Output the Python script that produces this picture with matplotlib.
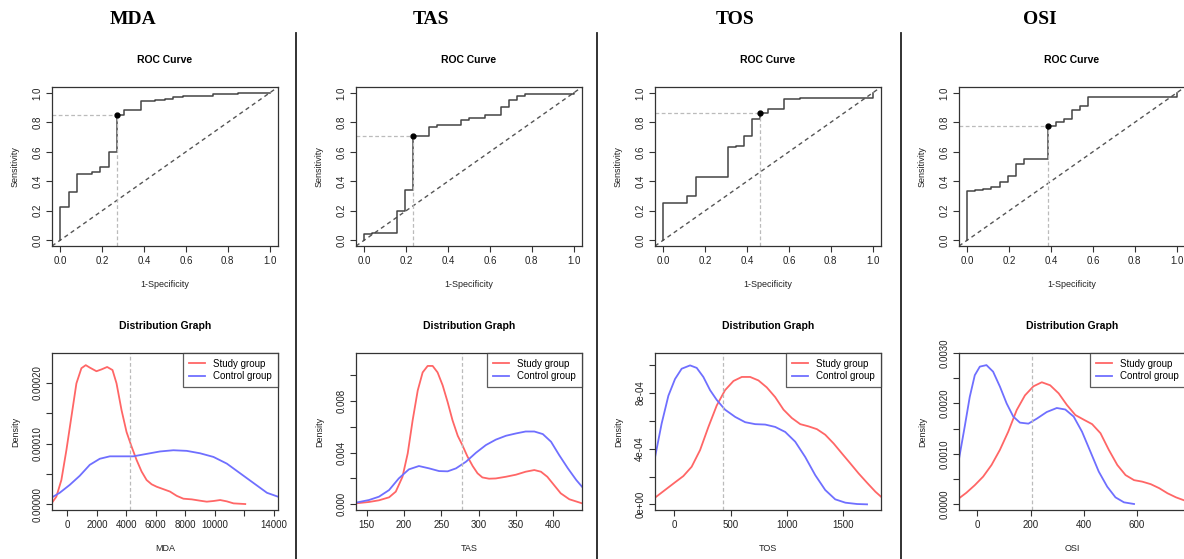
import numpy as np
import matplotlib
matplotlib.use("Agg")
import matplotlib.pyplot as plt

# -------------------------------
# 1. DATA
# -------------------------------
markers = ["MDA", "TAS", "TOS", "OSI"]

# ROC step points (1-specificity, sensitivity), drawn with steps-post
roc_fpr = {
    "MDA": [0, 0, 0.041, 0.08, 0.15, 0.19, 0.23, 0.269, 0.306, 0.383, 0.45, 0.50, 0.54, 0.585, 0.73, 0.85, 1.0],
    "TAS": [0, 0, 0.038, 0.077, 0.154, 0.192, 0.231, 0.308, 0.346, 0.462, 0.5, 0.577, 0.654, 0.692, 0.731, 0.769, 1.0],
    "TOS": [0, 0, 0.115, 0.154, 0.308, 0.346, 0.385, 0.423, 0.462, 0.5, 0.577, 0.654, 1.0],
    "OSI": [0, 0, 0.038, 0.077, 0.115, 0.154, 0.192, 0.231, 0.269, 0.385, 0.423, 0.462, 0.5, 0.538, 0.577, 1.0],
}
roc_tpr = {
    "MDA": [0, 0.223, 0.33, 0.448, 0.46, 0.50, 0.598, 0.852, 0.886, 0.948, 0.955, 0.96, 0.97, 0.98, 0.99, 1.0, 1.0],
    "TAS": [0, 0.04, 0.045, 0.05, 0.20, 0.34, 0.705, 0.768, 0.78, 0.818, 0.83, 0.85, 0.905, 0.95, 0.98, 0.99, 1.0],
    "TOS": [0, 0.255, 0.302, 0.43, 0.63, 0.64, 0.705, 0.823, 0.864, 0.893, 0.959, 0.968, 1.0],
    "OSI": [0, 0.334, 0.34, 0.35, 0.36, 0.398, 0.436, 0.514, 0.55, 0.777, 0.80, 0.823, 0.886, 0.909, 0.97, 1.0],
}
# best threshold point
thr_fpr = {"MDA": 0.269, "TAS": 0.231, "TOS": 0.462, "OSI": 0.385}
thr_tpr = {"MDA": 0.852, "TAS": 0.705, "TOS": 0.864, "OSI": 0.777}

# density curves: study group (red) and control group (blue)
study_x = {
    "MDA": [-1044, -749, -408, -68, 272, 613, 953, 1248, 1520, 1974, 2314, 2700, 3063, 3336, 3676, 4016,
            4357, 4697, 5037, 5378, 5718, 6058, 6512, 6966, 7420, 7874, 8441, 9008, 9462, 9916, 10370,
            10824, 11278, 12072],
    "TAS": [135.7, 153, 166.5, 180, 189, 198, 205, 211.6, 218.4, 225, 231.7, 238.4, 245, 251.8, 258.5,
            265, 272, 278, 285, 292, 298.5, 305, 314, 323, 336.5, 350, 363, 374.6, 383.5, 392, 401, 410,
            421.5, 438.5],
    "TOS": [-172, -83, 6, 80, 154, 229, 303, 377, 451, 526, 600, 674, 748, 822, 897, 971, 1045, 1120,
            1194, 1268, 1342, 1417, 1491, 1565, 1639, 1714, 1788, 1838],
    "OSI": [-69.5, -41.7, -10, 21.5, 53, 84.6, 116, 148, 179, 211, 242.5, 274, 306, 337, 369, 400, 432,
            463.6, 495, 527, 558, 590, 621, 653, 685, 716, 748, 782],
}
study_y = {
    "MDA": [2.7e-6, 1.26e-5, 4.0e-5, 8.9e-5, 1.44e-4, 1.99e-4, 2.24e-4, 2.29e-4, 2.25e-4, 2.19e-4, 2.22e-4,
            2.26e-4, 2.21e-4, 1.99e-4, 1.55e-4, 1.19e-4, 9.5e-5, 7.3e-5, 5.4e-5, 4.0e-5, 3.3e-5, 2.9e-5,
            2.5e-5, 2.1e-5, 1.4e-5, 9.3e-6, 8.2e-6, 6e-6, 4.4e-6, 5.5e-6, 7.1e-6, 4.9e-6, 1.6e-6, 5e-7],
    "TAS": [7.7e-5, 1.8e-4, 3.1e-4, 5.4e-4, 9.8e-4, 2.13e-3, 3.94e-3, 6.5e-3, 8.8e-3, 1.02e-2, 1.07e-2,
            1.07e-2, 1.02e-2, 9.2e-3, 7.9e-3, 6.5e-3, 5.3e-3, 4.6e-3, 3.7e-3, 2.96e-3, 2.4e-3, 2.08e-3,
            1.98e-3, 2.0e-3, 2.13e-3, 2.29e-3, 2.52e-3, 2.65e-3, 2.52e-3, 2.13e-3, 1.49e-3, 8.5e-4,
            3.9e-4, 7.7e-5],
    "TOS": [4.8e-5, 1.03e-4, 1.58e-4, 2.03e-4, 2.7e-4, 3.9e-4, 5.56e-4, 7.1e-4, 8.2e-4, 8.86e-4, 9.15e-4,
            9.15e-4, 8.9e-4, 8.4e-4, 7.7e-4, 6.8e-4, 6.2e-4, 5.76e-4, 5.6e-4, 5.4e-4, 5.0e-4, 4.37e-4,
            3.65e-4, 2.94e-4, 2.22e-4, 1.55e-4, 9.1e-5, 5.5e-5],
    "OSI": [1.19e-4, 2.3e-4, 3.8e-4, 5.5e-4, 7.8e-4, 1.08e-3, 1.44e-3, 1.87e-3, 2.16e-3, 2.34e-3, 2.42e-3,
            2.36e-3, 2.2e-3, 1.97e-3, 1.77e-3, 1.68e-3, 1.59e-3, 1.41e-3, 1.08e-3, 7.8e-4, 5.8e-4, 4.8e-4,
            4.5e-4, 4.0e-4, 3.2e-4, 2.2e-4, 1.39e-4, 7.3e-5],
}
control_x = {
    "MDA": [-1044, -522, 159, 840, 1520, 2201, 2882, 3562, 4470, 5378, 6285, 7193, 8101, 9008, 9916,
            10824, 11731, 12639, 13547, 14296],
    "TAS": [135.7, 153, 166.5, 180, 193, 206.5, 220, 233.6, 247, 258.5, 269.7, 283, 296.5, 309.7, 323,
            336.6, 350, 363, 374.6, 386, 397, 408, 419.6, 430.8, 438.5],
    "TOS": [-172, -113, -53, 6, 65, 140, 199, 258, 318, 377, 451, 541, 630, 719, 808, 897, 986, 1075,
            1164, 1253, 1342, 1431, 1521, 1625, 1714],
    "OSI": [-69.5, -48, -29, -10, 9, 34, 59, 85, 110, 135, 160, 192, 224, 261, 299, 331, 362.5, 394, 426,
            457, 489, 520, 552, 590],
}
control_y = {
    "MDA": [1.15e-5, 1.9e-5, 3.2e-5, 4.7e-5, 6.5e-5, 7.5e-5, 7.9e-5, 7.9e-5, 7.9e-5, 8.3e-5, 8.7e-5,
            8.9e-5, 8.8e-5, 8.4e-5, 7.8e-5, 6.7e-5, 5.1e-5, 3.5e-5, 1.9e-5, 1.26e-5],
    "TAS": [1.3e-4, 3.3e-4, 5.9e-4, 1.1e-3, 2.0e-3, 2.7e-3, 2.96e-3, 2.78e-3, 2.57e-3, 2.55e-3, 2.78e-3,
            3.29e-3, 3.99e-3, 4.58e-3, 5.0e-3, 5.3e-3, 5.48e-3, 5.63e-3, 5.63e-3, 5.43e-3, 4.84e-3, 3.8e-3,
            2.78e-3, 1.88e-3, 1.36e-3],
    "TOS": [3.37e-4, 5.8e-4, 7.8e-4, 9.0e-4, 9.74e-4, 9.98e-4, 9.8e-4, 9.15e-4, 8.2e-4, 7.5e-4, 6.8e-4,
            6.28e-4, 5.9e-4, 5.76e-4, 5.73e-4, 5.56e-4, 5.2e-4, 4.5e-4, 3.4e-4, 2.1e-4, 1.03e-4, 3.6e-5,
            1.2e-5, 2.4e-6, 0],
    "OSI": [9.0e-4, 1.54e-3, 2.13e-3, 2.56e-3, 2.73e-3, 2.76e-3, 2.63e-3, 2.33e-3, 2.0e-3, 1.74e-3,
            1.62e-3, 1.6e-3, 1.7e-3, 1.83e-3, 1.91e-3, 1.88e-3, 1.74e-3, 1.44e-3, 1.04e-3, 6.5e-4, 3.5e-4,
            1.39e-4, 4e-5, 7e-6],
}
cutoff = {"MDA": 4220, "TAS": 277.5, "TOS": 430, "OSI": 204.6}

# axis ranges and ticks of the density panels
dens_xlim = {"MDA": (-1044, 14296), "TAS": (135.7, 438.5), "TOS": (-172, 1838), "OSI": (-69.5, 782)}
dens_ylim = {"MDA": (-9.3e-6, 2.49e-4), "TAS": (-4.4e-4, 1.17e-2), "TOS": (-4.06e-5, 1.087e-3),
             "OSI": (-1.12e-4, 3.0e-3)}
dens_xticks = {"MDA": [0, 2000, 4000, 6000, 8000, 10000, 12000, 14000],
               "TAS": [150, 200, 250, 300, 350, 400],
               "TOS": [0, 500, 1000, 1500],
               "OSI": [0, 200, 400, 600]}
dens_xlabels = {"MDA": ["0", "2000", "4000", "6000", "8000", "10000", "", "14000"],
                "TAS": ["150", "200", "250", "300", "350", "400"],
                "TOS": ["0", "500", "1000", "1500"],
                "OSI": ["0", "200", "400", "600"]}
dens_yticks = {"MDA": [0, 5e-5, 1e-4, 1.5e-4, 2e-4],
               "TAS": [0, 0.002, 0.004, 0.006, 0.008, 0.010],
               "TOS": [0, 2e-4, 4e-4, 6e-4, 8e-4, 1e-3],
               "OSI": [0, 0.0005, 0.001, 0.0015, 0.002, 0.0025, 0.003]}
dens_ylabels = {"MDA": ["0.00000", "", "0.00010", "", "0.00020"],
                "TAS": ["0.000", "", "0.004", "", "0.008", ""],
                "TOS": ["0e+00", "", "4e-04", "", "8e-04", ""],
                "OSI": ["0.0000", "", "0.0010", "", "0.0020", "", "0.0030"]}

# -------------------------------
# 2. STYLE / LAYOUT
# -------------------------------
plt.rcParams['font.family'] = ['Liberation Sans', 'DejaVu Sans']
W, H = 1184, 559
INK = '#333333'
RED = '#ff6666'
BLUE = '#6f6fff'

roc_left = [52, 356, 655, 959]
panel_w = 226
header_x = [133, 431, 735, 1040]
sep_x = [296, 597, 901]


def px_axes(fig, left, top, width, height):
    return fig.add_axes([left / W, 1 - (top + height) / H, width / W, height / H])


def r_style(ax):
    for sp in ax.spines.values():
        sp.set_color(INK)
        sp.set_linewidth(0.9)
    ax.tick_params(direction='out', length=4, width=0.8, color=INK, labelsize=7,
                   labelcolor='#222222', pad=3)
    for lab in ax.get_yticklabels():
        lab.set_rotation(90)
        lab.set_va('center')


fig = plt.figure(figsize=(W / 100, H / 100), dpi=100)

# headers and separators
for name, hx in zip(markers, header_x):
    fig.text(hx / W, 1 - 20 / H, name, ha='center', va='center', fontsize=14,
             fontweight='bold', family=['Liberation Serif', 'DejaVu Serif'])
for sx in sep_x:
    fig.add_artist(plt.Line2D([sx / W, sx / W], [0, 1 - 33 / H], color='#222222', lw=1.3))

# -------------------------------
# 3. ROC CURVES
# -------------------------------
lo, hi = -0.04, 1.04
for name, left in zip(markers, roc_left):
    ax = px_axes(fig, left, 87, panel_w, 159)
    ax.set_xlim(lo, hi)
    ax.set_ylim(lo, hi)
    ax.axline((0, 0), (1, 1), color='#555555', lw=1.0, ls=(0, (3, 2.5)))
    ax.plot(roc_fpr[name], roc_tpr[name], drawstyle='steps-post', color='#444444', lw=1.1)
    tx, ty = thr_fpr[name], thr_tpr[name]
    ax.plot([lo, tx], [ty, ty], color='#bbbbbb', lw=0.9, ls=(0, (3, 2)))
    ax.plot([tx, tx], [lo, ty], color='#bbbbbb', lw=0.9, ls=(0, (3, 2)))
    ax.plot([tx], [ty], 'o', color='black', ms=3.5, zorder=5)
    ticks = [0.0, 0.2, 0.4, 0.6, 0.8, 1.0]
    ax.set_xticks(ticks)
    ax.set_yticks(ticks)
    ax.set_xticklabels([f"{t:.1f}" for t in ticks])
    ax.set_yticklabels([f"{t:.1f}" for t in ticks])
    r_style(ax)
    ax.set_title("ROC Curve", fontsize=7.5, fontweight='bold', pad=17)
    ax.set_xlabel("1-Specificity", fontsize=6.5, labelpad=10, color='#222222')
    ax.set_ylabel("Sensitivity", fontsize=6.5, labelpad=9, color='#222222')

# -------------------------------
# 4. DISTRIBUTION GRAPHS
# -------------------------------
for name, left in zip(markers, roc_left):
    ax = px_axes(fig, left, 353, panel_w, 157)
    ax.set_xlim(*dens_xlim[name])
    ax.set_ylim(*dens_ylim[name])
    ax.plot(study_x[name], study_y[name], color=RED, lw=1.3, label="Study group")
    ax.plot(control_x[name], control_y[name], color=BLUE, lw=1.3, label="Control group")
    ax.axvline(cutoff[name], color='#bbbbbb', lw=0.9, ls=(0, (3, 2)))
    ax.set_xticks(dens_xticks[name])
    ax.set_xticklabels(dens_xlabels[name])
    ax.set_yticks(dens_yticks[name])
    ax.set_yticklabels(dens_ylabels[name])
    r_style(ax)
    leg = ax.legend(loc='upper right', fontsize=7, frameon=True, fancybox=False,
                    borderaxespad=0, handlelength=1.6, borderpad=0.6, labelspacing=0.25,
                    handletextpad=0.9)
    leg.get_frame().set_edgecolor(INK)
    leg.get_frame().set_linewidth(0.9)
    ax.set_title("Distribution Graph", fontsize=7.5, fontweight='bold', pad=17)
    ax.set_xlabel(name, fontsize=6.5, labelpad=10, color='#222222')
    ax.set_ylabel("Density", fontsize=6.5, labelpad=9, color='#222222')

fig.savefig("out.png", dpi=100)
